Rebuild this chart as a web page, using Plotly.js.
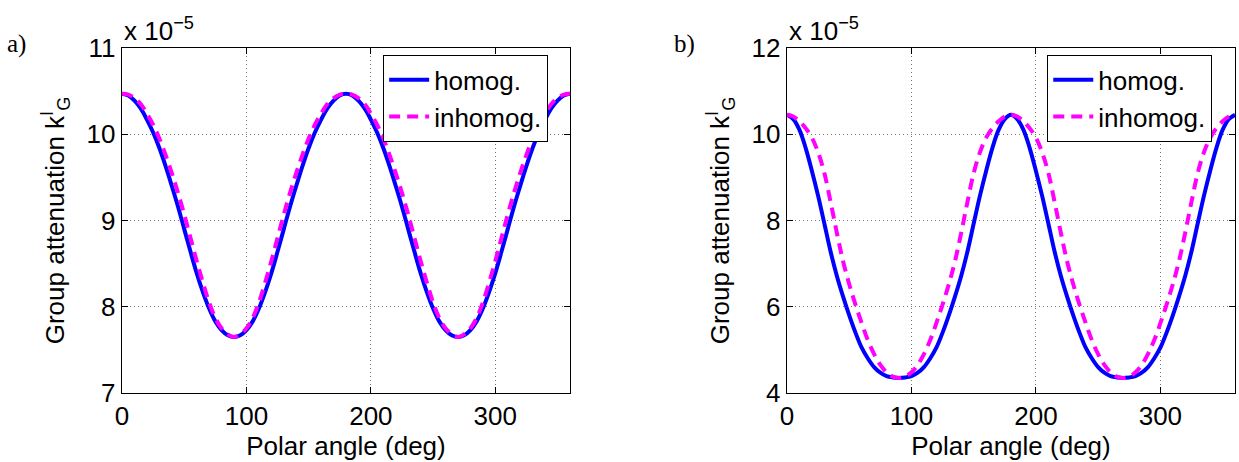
<!DOCTYPE html>
<html>
<head>
<meta charset="utf-8">
<script src="https://cdn.plot.ly/plotly-3.0.1.min.js"></script>
<style>html,body{margin:0;padding:0;background:#fff;}#chart{width:1239px;height:462px;}</style>
</head>
<body>
<div id="chart"></div>
<script>
// Polar angle (deg)
const angle = [0,5,10,15,20,25,30,35,40,45,50,55,60,65,70,75,80,85,90,
  95,100,105,110,115,120,125,130,135,140,145,150,155,160,165,170,175,180,
  185,190,195,200,205,210,215,220,225,230,235,240,245,250,255,260,265,270,
  275,280,285,290,295,300,305,310,315,320,325,330,335,340,345,350,355,360];

// Panel a) group attenuation (x 1e-5)
const aHomog = [10.47,10.45,10.39,10.30,10.17,10.02,9.84,9.63,9.40,9.16,8.90,8.64,8.39,8.17,7.98,7.83,7.73,7.67,7.65,
  7.67,7.73,7.83,7.98,8.17,8.39,8.64,8.90,9.16,9.40,9.63,9.84,10.02,10.17,10.30,10.39,10.45,10.47,
  10.45,10.39,10.30,10.17,10.02,9.84,9.63,9.40,9.16,8.90,8.64,8.39,8.17,7.98,7.83,7.73,7.67,7.65,
  7.67,7.73,7.83,7.98,8.17,8.39,8.64,8.90,9.16,9.40,9.63,9.84,10.02,10.17,10.30,10.39,10.45,10.47];
const aInhomog = [10.47,10.46,10.42,10.35,10.24,10.11,9.95,9.76,9.55,9.32,9.07,8.80,8.53,8.28,8.05,7.87,7.75,7.68,7.65,
  7.68,7.75,7.87,8.05,8.28,8.53,8.80,9.07,9.32,9.55,9.76,9.95,10.11,10.24,10.35,10.42,10.46,10.47,
  10.46,10.42,10.35,10.24,10.11,9.95,9.76,9.55,9.32,9.07,8.80,8.53,8.28,8.05,7.87,7.75,7.68,7.65,
  7.68,7.75,7.87,8.05,8.28,8.53,8.80,9.07,9.32,9.55,9.76,9.95,10.11,10.24,10.35,10.42,10.46,10.47];

// Panel b) group attenuation (x 1e-5)
const bHomog = [10.45,10.35,10.10,9.68,9.15,8.57,7.93,7.28,6.72,6.24,5.80,5.40,5.05,4.80,4.60,4.47,4.39,4.36,4.35,
  4.36,4.39,4.47,4.60,4.80,5.05,5.40,5.80,6.24,6.72,7.28,7.93,8.57,9.15,9.68,10.10,10.35,10.45,
  10.35,10.10,9.68,9.15,8.57,7.93,7.28,6.72,6.24,5.80,5.40,5.05,4.80,4.60,4.47,4.39,4.36,4.35,
  4.36,4.39,4.47,4.60,4.80,5.05,5.40,5.80,6.24,6.72,7.28,7.93,8.57,9.15,9.68,10.10,10.35,10.45];
const bInhomog = [10.45,10.41,10.30,10.14,9.92,9.58,9.10,8.43,7.72,7.06,6.52,6.05,5.62,5.22,4.90,4.65,4.48,4.38,4.35,
  4.38,4.48,4.65,4.90,5.22,5.62,6.05,6.52,7.06,7.72,8.43,9.10,9.58,9.92,10.14,10.30,10.41,10.45,
  10.41,10.30,10.14,9.92,9.58,9.10,8.43,7.72,7.06,6.52,6.05,5.62,5.22,4.90,4.65,4.48,4.38,4.35,
  4.38,4.48,4.65,4.90,5.22,5.62,6.05,6.52,7.06,7.72,8.43,9.10,9.58,9.92,10.14,10.30,10.41,10.45];

const seriesNames = ['homog.', 'inhomog.'];
const xTicks = [0, 100, 200, 300];
const aYTicks = [7, 8, 9, 10, 11];
const bYTicks = [4, 6, 8, 10, 12];

const FONT = 'Liberation Sans, Arial, Helvetica, sans-serif';
const blueLine = {color: '#0000ff', width: 4};
const magLine = {color: '#ff00ff', width: 4, dash: '11px,7px'};

const traces = [
  {x: angle, y: aHomog, name: seriesNames[0], xaxis: 'x', yaxis: 'y', mode: 'lines', line: {...blueLine, shape: 'spline'}, legend: 'legend'},
  {x: angle, y: aInhomog, name: seriesNames[1], xaxis: 'x', yaxis: 'y', mode: 'lines', line: {...magLine, shape: 'spline'}, legend: 'legend'},
  {x: angle, y: bHomog, name: seriesNames[0], xaxis: 'x2', yaxis: 'y2', mode: 'lines', line: {...blueLine, shape: 'spline'}, legend: 'legend2'},
  {x: angle, y: bInhomog, name: seriesNames[1], xaxis: 'x2', yaxis: 'y2', mode: 'lines', line: {...magLine, shape: 'spline'}, legend: 'legend2'}
];

function xAxis(domain, anchor) {
  return {
    domain: domain, anchor: anchor, range: [0, 360], tickvals: xTicks,
    showline: true, linecolor: '#000', linewidth: 1.3, mirror: 'allticks',
    ticks: 'inside', ticklen: 6, tickcolor: '#000',
    showgrid: true, gridcolor: '#777', griddash: '1px,3px', gridwidth: 1,
    zeroline: false, tickfont: {family: FONT, size: 26, color: '#000'},
    title: {text: 'Polar angle (deg)', font: {family: FONT, size: 26, color: '#000'}, standoff: 2},
    automargin: false
  };
}
function yAxis(domain, anchor, range, ticks) {
  return {
    domain: domain, anchor: anchor, range: range, tickvals: ticks,
    showline: true, linecolor: '#000', linewidth: 1.3, mirror: 'allticks',
    ticks: 'inside', ticklen: 6, tickcolor: '#000',
    showgrid: true, gridcolor: '#777', griddash: '1px,3px', gridwidth: 1,
    zeroline: false, tickfont: {family: FONT, size: 26, color: '#000'},
    title: {text: 'Group attenuation k<sup>I</sup><sub>G</sub>', font: {family: FONT, size: 26, color: '#000'}, standoff: 14},
    automargin: false
  };
}

const yDom = [0.1494, 0.8961];
const legendBase = {
  yanchor: 'top', xanchor: 'left', y: 0.881,
  bgcolor: '#fff', bordercolor: '#000', borderwidth: 1.3,
  font: {family: FONT, size: 26, color: '#000'},
  tracegroupgap: 0, itemwidth: 40
};

const layout = {
  width: 1239, height: 462,
  margin: {l: 0, r: 0, t: 0, b: 0},
  paper_bgcolor: '#fff', plot_bgcolor: '#fff',
  showlegend: true,
  xaxis: xAxis([0.0985, 0.4600], 'y'),
  yaxis: yAxis(yDom, 'x', [7, 11], aYTicks),
  xaxis2: xAxis([0.6352, 0.9968], 'y2'),
  yaxis2: yAxis(yDom, 'x2', [4, 12], bYTicks),
  legend: {...legendBase, x: 0.309},
  legend2: {...legendBase, x: 0.845},
  annotations: [
    {xref: 'paper', yref: 'paper', x: 0.0985, y: 0.8961, xanchor: 'left', yanchor: 'bottom', showarrow: false,
     text: 'x 10<sup>\u22125</sup>', font: {family: FONT, size: 26, color: '#000'}},
    {xref: 'paper', yref: 'paper', x: 0.6352, y: 0.8961, xanchor: 'left', yanchor: 'bottom', showarrow: false,
     text: 'x 10<sup>\u22125</sup>', font: {family: FONT, size: 26, color: '#000'}},
    {xref: 'paper', yref: 'paper', x: 0.004, y: 0.905, xanchor: 'left', yanchor: 'middle', showarrow: false,
     text: 'a)', font: {family: 'Liberation Serif, DejaVu Serif, serif', size: 25, color: '#000'}},
    {xref: 'paper', yref: 'paper', x: 0.542, y: 0.905, xanchor: 'left', yanchor: 'middle', showarrow: false,
     text: 'b)', font: {family: 'Liberation Serif, DejaVu Serif, serif', size: 25, color: '#000'}}
  ]
};

Plotly.newPlot('chart', traces, layout, {displayModeBar: false, staticPlot: true});
</script>
</body>
</html>
